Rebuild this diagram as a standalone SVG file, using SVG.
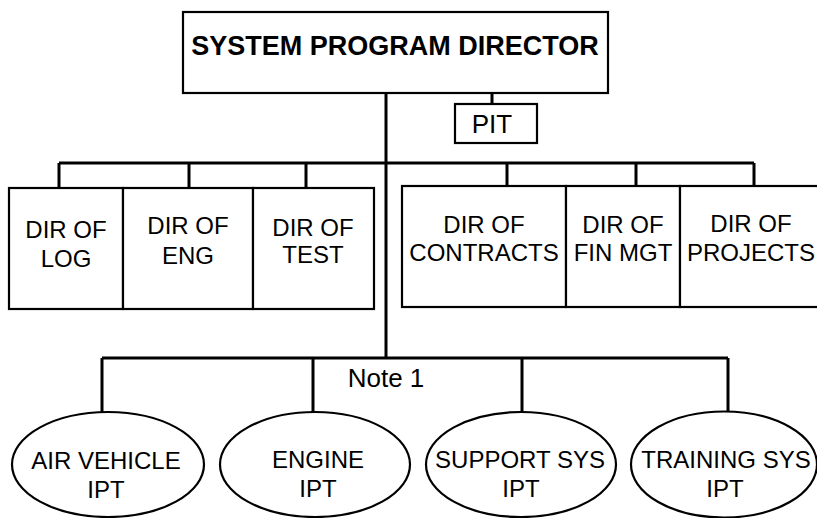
<svg xmlns="http://www.w3.org/2000/svg" width="817" height="518" viewBox="0 0 817 518">
<style>
.box{fill:#fff;stroke:#000;stroke-width:2.2}
.con{fill:none;stroke:#000;stroke-width:3}
text{font-family:"Liberation Sans",Arial,sans-serif;fill:#000;text-anchor:middle}
.t{font-size:24px}
.title{font-size:27px;font-weight:bold}
</style>
<rect width="817" height="518" fill="#fff"/>
<g id="connectors">
<path class="con" d="M386 93V358M492 93V104M59 163H754M59 163V188M189 163V188M306 163V188M507 163V186M636 163V186M754 163V186M102 358H728M102 358V412M313 358V412M522 358V412M728 358V412"/>
</g>
<g id="spd"><rect class="box" x="183" y="12" width="425" height="81"/><text class="title" x="395" y="55">SYSTEM PROGRAM DIRECTOR</text></g>
<g id="pit"><rect class="box" x="455" y="104" width="82" height="39"/><text x="492" y="133" font-size="26">PIT</text></g>
<g id="log"><rect class="box" x="9" y="188" width="114" height="121"/><text class="t" x="66" y="238">DIR OF</text><text class="t" x="66" y="267">LOG</text></g>
<g id="eng"><rect class="box" x="123" y="188" width="130" height="121"/><text class="t" x="188" y="234">DIR OF</text><text class="t" x="188" y="264">ENG</text></g>
<g id="test"><rect class="box" x="253" y="188" width="121" height="121"/><text class="t" x="313" y="236">DIR OF</text><text class="t" x="313" y="263">TEST</text></g>
<g id="contracts"><rect class="box" x="402" y="186" width="164" height="121"/><text class="t" x="484" y="233">DIR OF</text><text class="t" x="484" y="261">CONTRACTS</text></g>
<g id="finmgt"><rect class="box" x="566" y="186" width="114" height="121"/><text class="t" x="623" y="233">DIR OF</text><text class="t" x="623" y="261">FIN MGT</text></g>
<g id="projects"><rect class="box" x="680" y="186" width="142" height="121"/><text class="t" x="751" y="232">DIR OF</text><text class="t" x="751" y="261">PROJECTS</text></g>
<text id="note1" x="386" y="387" font-size="26">Note 1</text>
<g id="airvehicle"><ellipse class="box" cx="108" cy="464.5" rx="96" ry="52.5"/><text class="t" x="106" y="469">AIR VEHICLE</text><text class="t" x="106" y="498">IPT</text></g>
<g id="engine"><ellipse class="box" cx="315" cy="464.5" rx="95" ry="52.5"/><text class="t" x="318" y="468">ENGINE</text><text class="t" x="318" y="497">IPT</text></g>
<g id="supportsys"><ellipse class="box" cx="521" cy="464.5" rx="95" ry="52.5"/><text class="t" x="520" y="468">SUPPORT SYS</text><text class="t" x="521" y="497">IPT</text></g>
<g id="trainingsys"><ellipse class="box" cx="724" cy="464.5" rx="93" ry="53"/><text class="t" x="726" y="468">TRAINING SYS</text><text class="t" x="725" y="497">IPT</text></g>
</svg>
